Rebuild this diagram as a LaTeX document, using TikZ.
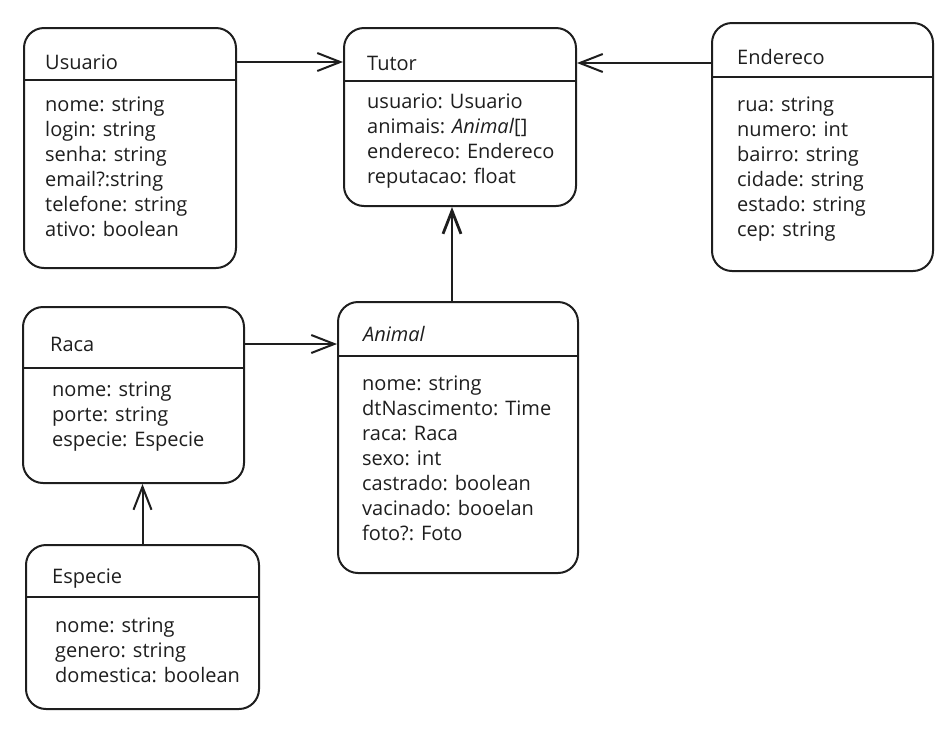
\documentclass[tikz,border=0pt]{standalone}
\usepackage{fontspec}
\setmainfont{Open Sans}
\usetikzlibrary{arrows.meta}

\definecolor{ink}{HTML}{1E1E1E}

\tikzset{
	classbox/.style={draw=ink, line width=2pt, rounded corners=20pt, anchor=north west, inner sep=0pt},
	classname/.style={anchor=west, inner sep=0pt, text=ink, font=\fontsize{20}{25}\selectfont},
	attrs/.style={anchor=north west, inner sep=0pt, align=left, text=ink, font=\fontsize{20}{25}\selectfont},
	divider/.style={draw=ink, line width=2pt},
	assoc/.style={draw=ink, line width=2pt, -{Straight Barb[length=23pt,width=18pt]}}
}

\begin{document}
\begin{tikzpicture}[x=1pt,y=-1pt]
	\useasboundingbox (0,0) rectangle (952,729);

	% classes
	\node[classbox, minimum width=212pt, minimum height=240pt] (usuario) at (23,27) {};
	\node[classbox, minimum width=232pt, minimum height=178pt] (tutor) at (343,27) {};
	\node[classbox, minimum width=221pt, minimum height=248pt] (endereco) at (711,22) {};
	\node[classbox, minimum width=221pt, minimum height=176pt] (raca) at (22,306) {};
	\node[classbox, minimum width=233pt, minimum height=164pt] (especie) at (25,544) {};
	\node[classbox, minimum width=240pt, minimum height=271pt] (animal) at (337,301) {};

	\draw[divider] (usuario.west |- 0,80) -- (usuario.east |- 0,80);
	\draw[divider] (tutor.west |- 0,81) -- (tutor.east |- 0,81);
	\draw[divider] (endereco.west |- 0,77) -- (endereco.east |- 0,77);
	\draw[divider] (raca.west |- 0,368) -- (raca.east |- 0,368);
	\draw[divider] (especie.west |- 0,597) -- (especie.east |- 0,597);
	\draw[divider] (animal.west |- 0,356) -- (animal.east |- 0,356);

	% names
	\node[classname] (usuarioT) at (45,62) {Usuario};
	\node[classname] (tutorT) at (367,63) {Tutor};
	\node[classname] (enderecoT) at (737,57) {Endereco};
	\node[classname] (racaT) at (50,344) {Raca};
	\node[classname] (especieT) at (52,579) {Especie};
	\node[classname] (animalT) at (363,334) {\itshape Animal};

	% attributes
	\node[attrs] (usuarioA) at (45,94) {\strut nome: string\\login: string\\senha: string\\email?:string\\telefone: string\\ativo: boolean};
	\node[attrs] (tutorA) at (367,91) {\strut usuario: Usuario\\animais: \textit{Animal}[]\\endereco: Endereco\\reputacao: float};
	\node[attrs] (enderecoA) at (737,94) {\strut rua: string\\numero: int\\bairro: string\\cidade: string\\estado: string\\cep: string};
	\node[attrs] (racaA) at (52,379) {\strut nome: string\\porte: string\\especie: Especie};
	\node[attrs] (especieA) at (55,615) {\strut nome: string\\genero: string\\domestica: boolean};
	\node[attrs] (animalA) at (362,373) {\strut nome: string\\dtNascimento: Time\\raca: Raca\\sexo: int\\castrado: boolean\\vacinado: booelan\\foto?: Foto};

	% associations
	\draw[assoc] (usuarioT -| usuario.east) -- (usuarioT -| tutor.west);
	\draw[assoc] (tutorT -| endereco.west) -- (tutorT -| tutor.east);
	\draw[assoc, line width=2.8pt] (animal.north -| 452,0) -- (tutor.south -| 452,0);
	\draw[assoc] (racaT -| raca.east) -- (racaT -| animal.west);
	\draw[assoc] (especie.north) -- (especie.north |- raca.south);
\end{tikzpicture}
\end{document}
